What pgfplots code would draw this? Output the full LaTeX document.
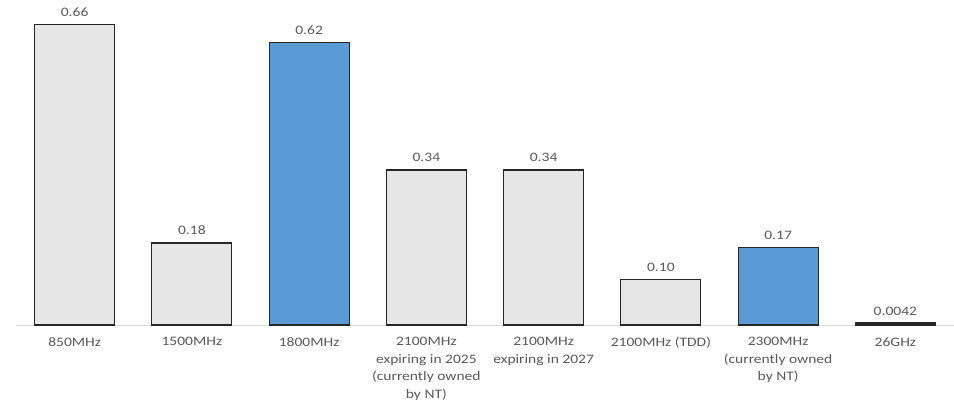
\documentclass[border=0pt]{standalone}
\usepackage{pgfplots}
\pgfplotsset{compat=1.18}
\usepackage{fontspec}
\setmainfont{Carlito}[FakeStretch=1.2]
\definecolor{barGray}{HTML}{E7E6E6}
\definecolor{barBlue}{HTML}{5B9BD5}
\definecolor{txt}{HTML}{595959}
\definecolor{axisGray}{HTML}{D9D9D9}
\begin{document}
\begin{tikzpicture}
\begin{axis}[
  scale only axis,
  width=938bp, height=325bp,
  xmin=-0.5, xmax=7.5,
  ymin=0, ymax=0.713,
  axis x line*=bottom,
  axis y line=none,
  x axis line style={draw=axisGray, line width=1bp, -},
  xtick={0,1,2,3,4,5,6,7},
  xticklabels={850MHz,1500MHz,1800MHz,{2100MHz\\expiring in 2025\\(currently owned\\by NT)},{2100MHz\\expiring in 2027},2100MHz (TDD),{2300MHz\\(currently owned\\by NT)},26GHz},
  xticklabel style={align=center, font=\fontsize{13}{17.5}\selectfont, text=txt, yshift=-9bp},
  major tick length=0pt,
  ytick=\empty,
  ybar, bar width=80bp, bar shift=0pt,
  nodes near coords,
  point meta=explicit symbolic,
  every node near coord/.append style={font=\fontsize{13}{15}\selectfont, text=txt, yshift=4bp},
  clip=false,
]
\addplot[fill=barGray, draw=black!85, line width=1.2bp] table[meta=lab] {
x y lab
0 0.66 0.66
1 0.18 0.18
3 0.34 0.34
4 0.34 0.34
5 0.10 0.10
7 0.0042 0.0042
};
\addplot[fill=barBlue, draw=black!85, line width=1.2bp] table[meta=lab] {
x y lab
2 0.62 0.62
6 0.17 0.17
};
\end{axis}
\pgfresetboundingbox
\path[use as bounding box] (current axis.south west) ++(-16bp,-81bp) rectangle (current axis.north east);
\end{tikzpicture}
\end{document}
